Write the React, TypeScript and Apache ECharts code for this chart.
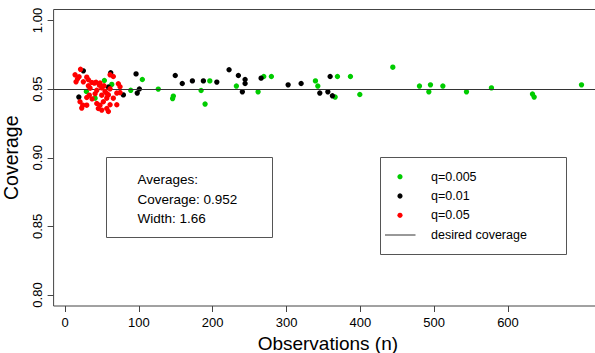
import React, { useEffect, useRef } from "react";
import * as echarts from "echarts";

// Observations (n), Coverage pairs for each group
const greenPoints: [number, number][] = [
  [28.9, 0.9483], [40.7, 0.9434], [53.3, 0.9563], [63.3, 0.9534], [89.0, 0.9491],
  [104.7, 0.957], [126.3, 0.95], [146.7, 0.9449], [145.7, 0.9431], [184.3, 0.949],
  [189.7, 0.9391], [196.1, 0.956], [232.1, 0.9522], [261.5, 0.948], [269.2, 0.9592],
  [279.5, 0.9592], [339.2, 0.956], [342.4, 0.9522], [365.9, 0.9442], [369.0, 0.9592],
  [386.6, 0.9592], [399.3, 0.9461], [444.0, 0.966], [480.1, 0.9522], [495.0, 0.9531],
  [492.8, 0.948], [511.8, 0.9522], [543.8, 0.948], [577.6, 0.9509], [633.2, 0.9464],
  [635.5, 0.9442], [699.6, 0.9531],
];

const blackPoints: [number, number][] = [
  [24.8, 0.9633], [18.7, 0.9442], [61.9, 0.9619], [58.7, 0.9515], [79.0, 0.9458],
  [96.2, 0.9611], [100.7, 0.9501], [97.8, 0.9471], [149.3, 0.9599], [158.8, 0.9541],
  [172.5, 0.956], [187.4, 0.956], [205.6, 0.9551], [222.2, 0.9641], [234.8, 0.9599],
  [243.9, 0.957], [243.9, 0.9541], [240.2, 0.948], [265.6, 0.958], [302.2, 0.9531],
  [319.8, 0.9541], [359.1, 0.9592], [345.1, 0.9471], [356.0, 0.948], [362.2, 0.9451],
];

const redPoints: [number, number][] = [
  [21.0, 0.9644], [13.6, 0.9604], [16.9, 0.9575], [19.0, 0.959], [29.4, 0.9587],
  [31.6, 0.9568], [14.9, 0.9553], [24.8, 0.9553], [36.2, 0.9548], [39.7, 0.9544],
  [42.0, 0.955], [47.4, 0.9544], [46.5, 0.9529], [31.6, 0.9524], [61.0, 0.9604],
  [65.4, 0.9592], [72.2, 0.9539], [33.9, 0.9507], [43.0, 0.9491], [49.7, 0.9509],
  [54.2, 0.9483], [61.0, 0.9502], [70.1, 0.9471], [74.5, 0.9475], [32.9, 0.9456],
  [29.4, 0.9439], [49.7, 0.9456], [56.5, 0.9468], [20.3, 0.9408], [24.0, 0.9383],
  [22.6, 0.9362], [29.4, 0.9383], [43.0, 0.9395], [47.4, 0.9383], [51.9, 0.9408],
  [56.5, 0.9434], [58.7, 0.9458], [65.4, 0.9434], [45.1, 0.9359], [49.7, 0.9347],
  [56.5, 0.9359], [70.1, 0.9386], [61.0, 0.9386], [58.7, 0.9337], [36.6, 0.9429],
  [40.7, 0.9466], [52.8, 0.9524], [74.5, 0.9517],
];

const desiredCoverage = 0.95;
const xTicks = [0, 100, 200, 300, 400, 500, 600];
const yTicks = [0.8, 0.85, 0.9, 0.95, 1.0];
const seriesNames = ["q=0.005", "q=0.01", "q=0.05"];
const seriesColors = ["#00cc00", "#000000", "#ff0000"];
const averageLines = ["Averages:", "Coverage: 0.952", "Width: 1.66"];
const lineLabel = "desired coverage";

const FONT = "'Liberation Sans', Arial, sans-serif";

export default function App() {
  const ref = useRef<HTMLDivElement>(null);
  useEffect(() => {
    if (!ref.current) return;
    const chart = echarts.init(ref.current, null, { renderer: "svg" });
    const groups = [greenPoints, blackPoints, redPoints];

    const legendGraphics: any[] = [
      {
        type: "rect",
        shape: { x: 380.5, y: 157.5, width: 186, height: 97 },
        style: { fill: "#fff", stroke: "#555", lineWidth: 1 },
        z: 10,
      },
    ];
    const legendYs = [176.7, 196, 215.3];
    seriesNames.forEach((n, i) => {
      legendGraphics.push({
        type: "circle",
        shape: { cx: 400, cy: legendYs[i], r: 2.6 },
        style: { fill: seriesColors[i] },
        z: 11,
      });
      legendGraphics.push({
        type: "text",
        x: 431,
        y: legendYs[i],
        style: { text: n, font: `12.5px ${FONT}`, fill: "#000", verticalAlign: "middle" },
        z: 11,
      });
    });
    legendGraphics.push({
      type: "line",
      shape: { x1: 385, y1: 235, x2: 415.5, y2: 235 },
      style: { stroke: "#333", lineWidth: 1 },
      z: 11,
    });
    legendGraphics.push({
      type: "text",
      x: 431,
      y: 235,
      style: { text: lineLabel, font: `12.5px ${FONT}`, fill: "#000", verticalAlign: "middle" },
      z: 11,
    });

    const avgGraphics: any[] = [
      {
        type: "rect",
        shape: { x: 106.5, y: 157.5, width: 166, height: 80 },
        style: { fill: "#fff", stroke: "#555", lineWidth: 1 },
        z: 10,
      },
    ];
    const avgYs = [179.3, 199, 218.3];
    averageLines.forEach((t, i) => {
      avgGraphics.push({
        type: "text",
        x: 137.5,
        y: avgYs[i],
        style: { text: t, font: `13.5px ${FONT}`, fill: "#000", verticalAlign: "middle" },
        z: 11,
      });
    });

    chart.setOption({
      animation: false,
      backgroundColor: "#fff",
      textStyle: { fontFamily: FONT },
      grid: {
        left: 53.6,
        right: -7.1,
        top: 9.5,
        bottom: 47,
        show: true,
        borderColor: "#444",
        borderWidth: 1,
        backgroundColor: "transparent",
        containLabel: false,
        outerBoundsMode: "none",
      },
      xAxis: {
        type: "value",
        min: -15.5,
        max: 727.5,
        name: "Observations (n)",
        nameLocation: "middle",
        nameGap: 21,
        nameTextStyle: { fontSize: 19, color: "#000", fontFamily: FONT },
        axisLine: { show: false, onZero: false },
        splitLine: { show: false },
        axisTick: {
          show: true,
          inside: false,
          length: 6,
          customValues: xTicks,
          lineStyle: { color: "#444" },
        },
        axisLabel: {
          customValues: xTicks,
          fontSize: 13,
          color: "#000",
          margin: 10,
          fontFamily: FONT,
        },
      },
      yAxis: {
        type: "value",
        min: 0.792,
        max: 1.008,
        name: "Coverage",
        nameLocation: "middle",
        nameGap: 33,
        nameRotate: 90,
        nameTextStyle: { fontSize: 19.5, color: "#000", fontFamily: FONT },
        axisLine: { show: false, onZero: false },
        splitLine: { show: false },
        axisTick: {
          show: true,
          inside: false,
          length: 6,
          customValues: yTicks,
          lineStyle: { color: "#444" },
        },
        axisLabel: {
          customValues: yTicks,
          rotate: 90,
          fontSize: 13,
          color: "#000",
          margin: 10,
          fontFamily: FONT,
          formatter: (v: number) => v.toFixed(2),
        },
      },
      series: [
        {
          type: "line",
          name: lineLabel,
          data: [],
          markLine: {
            silent: true,
            symbol: "none",
            label: { show: false },
            lineStyle: { color: "#333", width: 1, type: "solid" },
            data: [{ yAxis: desiredCoverage }],
          },
        },
        ...groups.map((g, i) => ({
          type: "scatter",
          name: seriesNames[i],
          data: g,
          symbol: "circle",
          symbolSize: 5.4,
          itemStyle: { color: seriesColors[i], opacity: 1 },
          z: 3 + i,
        })),
      ],
      graphic: [...avgGraphics, ...legendGraphics],
    });
    return () => chart.dispose();
  }, []);
  return (
    <div
      ref={ref}
      style={{ position: "fixed", left: 0, top: 0, width: 595, height: 353 }}
    />
  );
}
